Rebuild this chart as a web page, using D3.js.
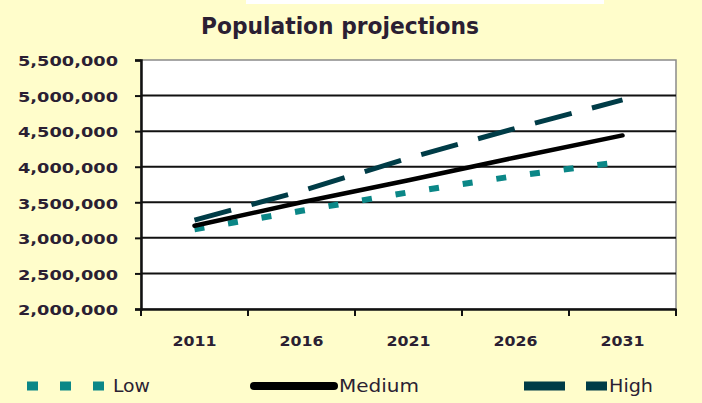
<!DOCTYPE html>
<html><head><meta charset="utf-8">
<script src="https://cdn.jsdelivr.net/npm/d3@7"></script>
<style>
html,body{margin:0;padding:0;background:#FFFDCB;}
svg{display:block;}
</style></head>
<body>
<svg id="chart" width="702" height="403"></svg>
<script>
const years = ["2011","2016","2021","2026","2031"];
const lowValues    = [3120000, 3380000, 3640000, 3870000, 4070000];
const mediumValues = [3170000, 3500000, 3810000, 4130000, 4440000];
const highValues   = [3250000, 3660000, 4120000, 4540000, 4940000];
const yTicks = [2000000,2500000,3000000,3500000,4000000,4500000,5000000,5500000];
const seriesNames = ["Low","Medium","High"];

const svg = d3.select("#chart");
const W=702,H=403;
svg.append("rect").attr("width",W).attr("height",H).attr("fill","#FFFDCB");
svg.append("rect").attr("x",246).attr("y",0).attr("width",358).attr("height",4).attr("fill","#ffffff");

const pL=141,pR=676,pT=60,pB=309;
const x = d3.scaleBand().domain(years).range([pL,pR]).padding(0);
const y = d3.scaleLinear().domain([2000000,5500000]).range([pB,pT]);

const textColor="#2b1f33";

// title
svg.append("text").attr("x",340).attr("y",34).attr("text-anchor","middle")
  .attr("font-family","'DejaVu Sans Condensed','Liberation Sans Narrow','DejaVu Sans',sans-serif")
  .attr("font-weight","bold").attr("font-size",23).attr("fill",textColor)
  .attr("textLength",278).attr("lengthAdjust","spacingAndGlyphs")
  .text("Population projections");

// plot area
svg.append("rect").attr("x",pL).attr("y",pT).attr("width",pR-pL).attr("height",pB-pT)
  .attr("fill","#ffffff").attr("stroke","#8a8a8a").attr("stroke-width",1.5);

// gridlines
svg.append("g").selectAll("line").data(yTicks.filter(d=>d>2000000 && d<5500000)).join("line")
  .attr("x1",pL).attr("x2",pR).attr("y1",d=>y(d)).attr("y2",d=>y(d))
  .attr("stroke","#111").attr("stroke-width",2);

// y axis
const yAxis = d3.axisLeft(y).tickValues(yTicks).tickSize(6).tickFormat(d3.format(","));
const gy = svg.append("g").attr("transform",`translate(${pL},0)`).call(yAxis);
gy.select(".domain").attr("stroke","#111").attr("stroke-width",2.5);
gy.selectAll(".tick line").attr("stroke","#111").attr("stroke-width",2);
gy.selectAll(".tick text").attr("x",-23).attr("dy","0.4em")
  .attr("font-family","'DejaVu Sans',sans-serif").attr("font-weight","bold")
  .attr("font-size",14.5).attr("fill",textColor)
  .attr("textLength",100).attr("lengthAdjust","spacingAndGlyphs");

// x axis
const xAxis = d3.axisBottom(x).tickSize(0).tickPadding(0);
const gx = svg.append("g").attr("transform",`translate(0,${pB})`).call(xAxis);
gx.select(".domain").attr("stroke","#111").attr("stroke-width",2.5);
gx.selectAll(".tick text").attr("y",37).attr("dy",0)
  .attr("font-family","'DejaVu Sans',sans-serif").attr("font-weight","bold")
  .attr("font-size",14.5).attr("fill",textColor)
  .attr("textLength",44).attr("lengthAdjust","spacingAndGlyphs");
const boundaries = years.map(d=>x(d)).concat([pR]);
gx.append("g").selectAll("line").data(boundaries).join("line")
  .attr("x1",d=>d).attr("x2",d=>d).attr("y1",0).attr("y2",7)
  .attr("stroke","#111").attr("stroke-width",2);

// lines
const line = d3.line().x((d,i)=>x(years[i])+x.bandwidth()/2).y(d=>y(d));
const styles = [
  {name:"Low", data:lowValues, color:"#0b8787", w:6, dash:"10,24", cap:"butt"},
  {name:"Medium", data:mediumValues, color:"#000000", w:4.5, dash:null, cap:"round"},
  {name:"High", data:highValues, color:"#003c47", w:5, dash:"38,21", cap:"butt"}
];
svg.append("g").selectAll("path").data(styles).join("path")
  .attr("d",d=>line(d.data)).attr("fill","none")
  .attr("stroke",d=>d.color).attr("stroke-width",d=>d.w)
  .attr("stroke-dasharray",d=>d.dash).attr("stroke-linecap",d=>d.cap);

// legend
const legY=386;
const leg = [
  {x1:27,x2:106,color:"#0b8787",w:9,dash:"11,22",cap:"butt",tx:113,tl:37,label:seriesNames[0]},
  {x1:254,x2:334,color:"#000000",w:8,dash:null,cap:"round",tx:339,tl:80,label:seriesNames[1]},
  {x1:524,x2:607,color:"#003c47",w:9,dash:"41,21",cap:"butt",tx:609,tl:44,label:seriesNames[2]}
];
const lg = svg.append("g");
lg.selectAll("line").data(leg).join("line")
  .attr("x1",d=>d.x1).attr("x2",d=>d.x2).attr("y1",legY).attr("y2",legY)
  .attr("stroke",d=>d.color).attr("stroke-width",d=>d.w)
  .attr("stroke-dasharray",d=>d.dash).attr("stroke-linecap",d=>d.cap);
lg.selectAll("text").data(leg).join("text")
  .attr("x",d=>d.tx).attr("y",legY+6)
  .attr("font-family","'DejaVu Sans Condensed','DejaVu Sans',sans-serif")
  .attr("font-size",17).attr("fill",textColor)
  .attr("textLength",d=>d.tl).attr("lengthAdjust","spacingAndGlyphs")
  .text(d=>d.label);
</script>
</body></html>
